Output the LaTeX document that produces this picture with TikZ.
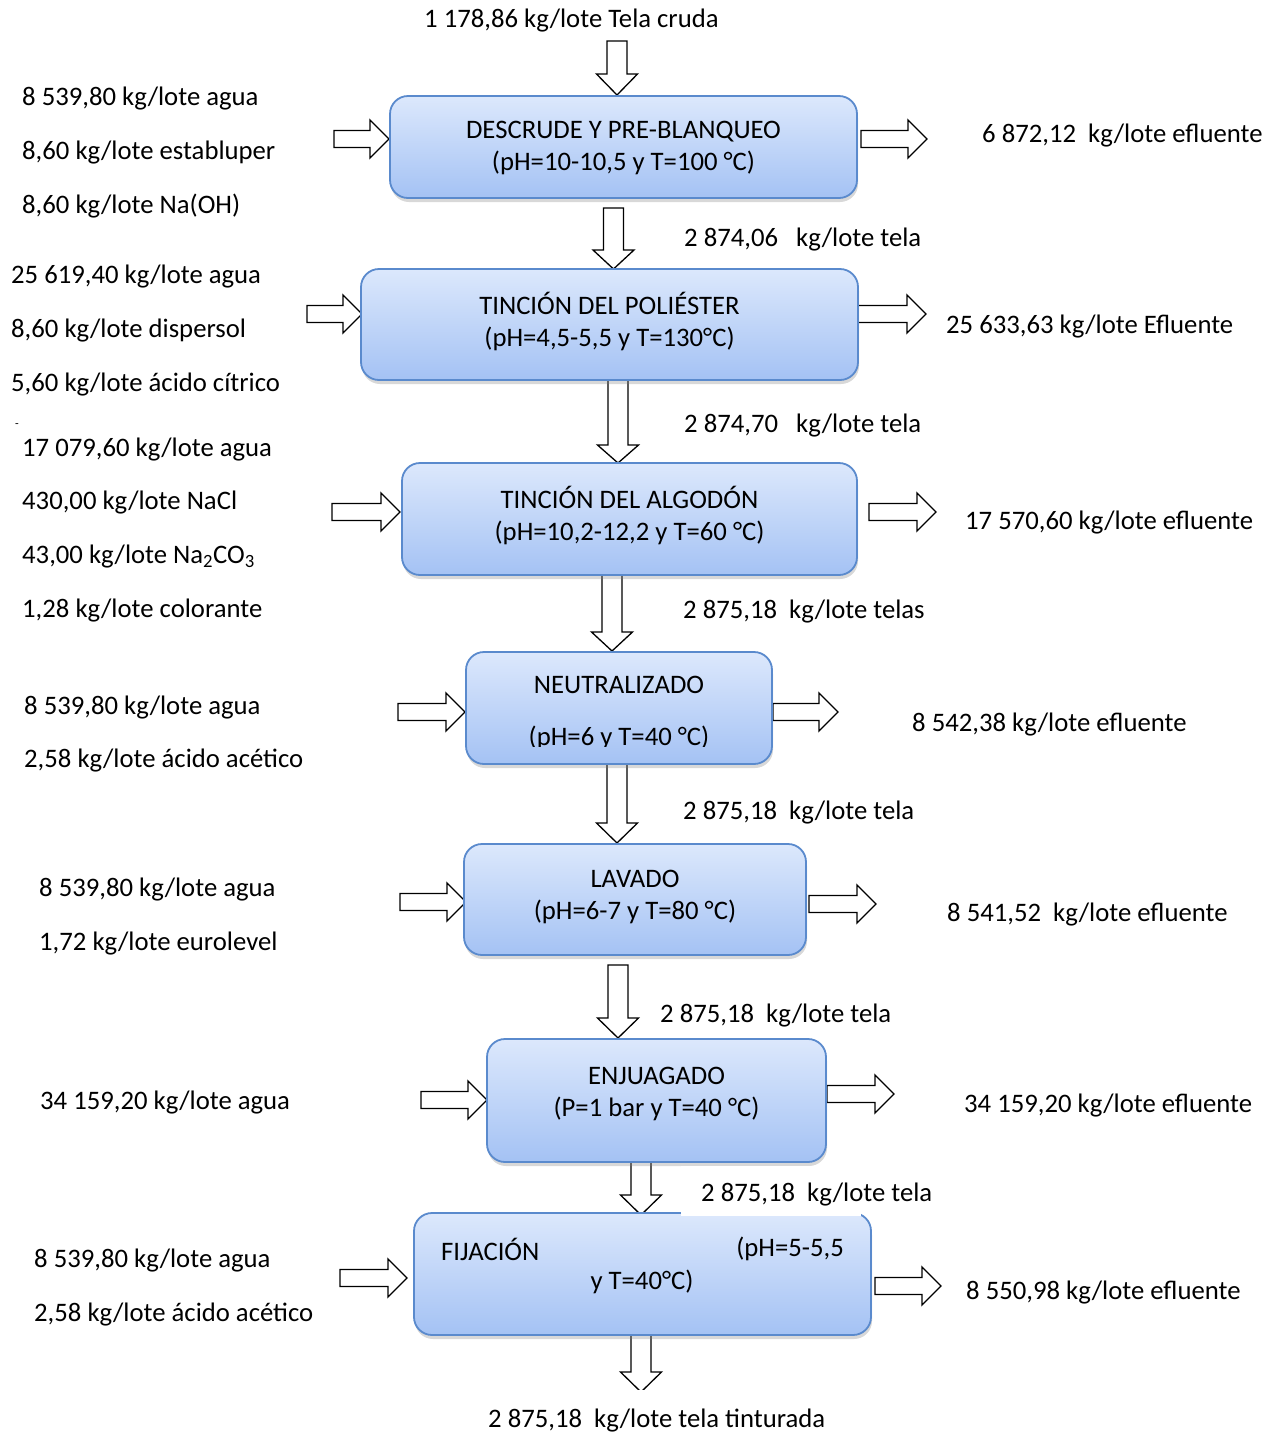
\documentclass[tikz,border=0pt]{standalone}
\usepackage{fontspec}
\setmainfont{Carlito}
\usetikzlibrary{shadows}
\definecolor{boxtop}{HTML}{DCE8FC}
\definecolor{boxbot}{HTML}{A4C2F4}
\definecolor{boxline}{HTML}{5A8ACD}
\tikzset{
  blockarrow/.style={draw=black, fill=white, line width=1.3pt, line join=miter},
  proc/.style={draw=boxline, line width=1.8pt, rounded corners=18pt, top color=boxtop, bottom color=boxbot,
    drop shadow={shadow xshift=1pt, shadow yshift=-4pt, opacity=0.3}, inner sep=0pt},
  boxtxt/.style={inner sep=0pt, align=center, font=\fontsize{26.7}{32}\selectfont},
  lbl/.style={anchor=west, inner sep=0pt, yshift=-2.5pt, font=\fontsize{26.7}{32}\selectfont},
}
\newcommand{\mydarr}[4]{%
  \draw[blockarrow] (#1-10,#2) -- (#1+10,#2) -- (#1+10,#3) -- (#1+20.5,#3) -- (#1,#4) -- (#1-20.5,#3) -- (#1-10,#3) -- cycle;}
\newcommand{\myrarr}[3]{%
  \draw[blockarrow] (#1,#3-8.5) -- (#2-19,#3-8.5) -- (#2-19,#3-19) -- (#2,#3) -- (#2-19,#3+19) -- (#2-19,#3+8.5) -- (#1,#3+8.5) -- cycle;}
\begin{document}
\begin{tikzpicture}[x=1pt,y=-1pt]
\useasboundingbox[fill=white] (0,0) rectangle (1271,1433);

% down arrows
\mydarr{617}{41}{74}{95}
\mydarr{613.5}{208}{250}{269}
\mydarr{618}{378}{445}{463}
\mydarr{612}{575}{632}{651}
\mydarr{617}{762}{823}{843}
\mydarr{618}{965}{1018}{1038}
\mydarr{641}{1150}{1195}{1215}
\mydarr{641}{1330}{1372}{1392}

% left (input) arrows
\myrarr{334}{389}{139}
\myrarr{307}{362}{314}
\myrarr{332}{400}{512}
\myrarr{398}{465}{712}
\myrarr{400}{466}{902}
\myrarr{421}{487}{1100}
\myrarr{340}{407}{1278}

% right (output) arrows
\myrarr{861}{927}{139}
\myrarr{858}{926}{314}
\myrarr{869}{936}{512}
\myrarr{773}{838}{712}
\myrarr{809}{876}{904}
\myrarr{827}{894}{1094}
\myrarr{875}{941}{1286}

% process boxes
\node[proc, minimum width=467pt, minimum height=102pt] (b1) at (623.5,147) {};
\node[proc, minimum width=497pt, minimum height=111pt] (b2) at (609.5,324.5) {};
\node[proc, minimum width=455pt, minimum height=112pt] (b3) at (629.5,519) {};
\node[proc, minimum width=306pt, minimum height=112pt] (b4) at (619,708) {};
\node[proc, minimum width=342pt, minimum height=111pt] (b5) at (635,899.5) {};
\node[proc, minimum width=339pt, minimum height=123pt] (b6) at (656.5,1100.5) {};
\node[proc, minimum width=457pt, minimum height=122pt] (b7) at (642.5,1274) {};

% box texts
\node[boxtxt] (b1t) at (623.5,147.5) {DESCRUDE Y PRE-BLANQUEO\\(pH=10-10,5 y T=100 °C)};
\node[boxtxt] (b2t) at (609.5,321.5) {TINCIÓN DEL POLIÉSTER\\(pH=4,5-5,5 y T=130°C)};
\node[boxtxt] (b3t) at (629.5,515.5) {TINCIÓN DEL ALGODÓN\\(pH=10,2-12,2 y T=60 °C)};
\node[boxtxt] (b5t) at (635,896.5) {LAVADO\\(pH=6-7 y T=80 °C)};
\node[boxtxt] (b6t) at (656.5,1094) {ENJUAGADO\\(P=1 bar y T=40 °C)};

% box 4 text
\node[boxtxt] (b4a) at (619,685) {NEUTRALIZADO};
\begin{scope}
  \clip (480,720) rectangle (760,746);
  \node[boxtxt] (b4b) at (619,738) {(pH=6 y T=40 °C)};
\end{scope}

% box 7 text
\node[boxtxt, anchor=west] (b7a) at (441,1249) {FIJACIÓN};
\node[boxtxt, anchor=east] (b7b) at (844,1249) {(pH=5-5,5};
\node[boxtxt] (b7c) at (642,1282) {y T=40°C)};

% top input
\node[lbl] (top) at (424,18) {1 178,86 kg/lote Tela cruda};

% stage 1
\node[lbl] (i1a) at (22,96) {8 539,80 kg/lote agua};
\node[lbl] (i1b) at (22,150) {8,60 kg/lote establuper};
\node[lbl] (i1c) at (22,204) {8,60 kg/lote Na(OH)};
\node[lbl] (o1) at (982,133) {6 872,12\ \ kg/lote efluente};
\node[lbl] (f1) at (684,237) {2 874,06\ \ \ kg/lote tela};

% stage 2
\node[lbl] (i2a) at (11,274) {25 619,40 kg/lote agua};
\node[lbl] (i2b) at (11,328) {8,60 kg/lote dispersol};
\node[lbl] (i2c) at (11,382) {5,60 kg/lote ácido cítrico};
\node[lbl] (o2) at (946,324) {25 633,63 kg/lote Efluente};
\node[lbl] (f2) at (684,423) {2 874,70\ \ \ kg/lote tela};

% stage 3
\node[inner sep=0pt, font=\fontsize{12}{12}\selectfont] (dash) at (17,426) {-};
\node[lbl] (i3a) at (22,447) {17 079,60 kg/lote agua};
\node[lbl] (i3b) at (22,500) {430,00 kg/lote NaCl};
\node[lbl] (i3c) at (22,554) {43,00 kg/lote Na\textsubscript{2}CO\textsubscript{3}};
\node[lbl] (i3d) at (22,608) {1,28 kg/lote colorante};
\node[lbl] (o3) at (965,520) {17 570,60 kg/lote efluente};
\node[lbl] (f3) at (683,609) {2 875,18\ \ kg/lote telas};

% stage 4
\node[lbl] (i4a) at (24,705) {8 539,80 kg/lote agua};
\node[lbl] (i4b) at (24,758) {2,58 kg/lote ácido acético};
\node[lbl] (o4) at (912,722) {8 542,38 kg/lote efluente};
\node[lbl] (f4) at (683,810) {2 875,18\ \ kg/lote tela};

% stage 5
\node[lbl] (i5a) at (39,887) {8 539,80 kg/lote agua};
\node[lbl] (i5b) at (39,941) {1,72 kg/lote eurolevel};
\node[lbl] (o5) at (947,912) {8 541,52\ \ kg/lote efluente};
\node[lbl] (f5) at (660,1013) {2 875,18\ \ kg/lote tela};

% stage 6
\node[lbl] (i6a) at (40,1100) {34 159,20 kg/lote agua};
\node[lbl] (o6) at (964,1103) {34 159,20 kg/lote efluente};
\fill[white] (681,1166) rectangle (861,1216);
\node[lbl] (f6) at (701,1192) {2 875,18\ \ kg/lote tela};

% stage 7
\node[lbl] (i7a) at (34,1258) {8 539,80 kg/lote agua};
\node[lbl] (i7b) at (34,1312) {2,58 kg/lote ácido acético};
\node[lbl] (o7) at (966,1290) {8 550,98 kg/lote efluente};

% output
\fill[white] (480,1390) rectangle (840,1433);
\node[lbl] (out) at (488,1418) {2 875,18\ \ kg/lote tela tinturada};
\end{tikzpicture}
\end{document}
